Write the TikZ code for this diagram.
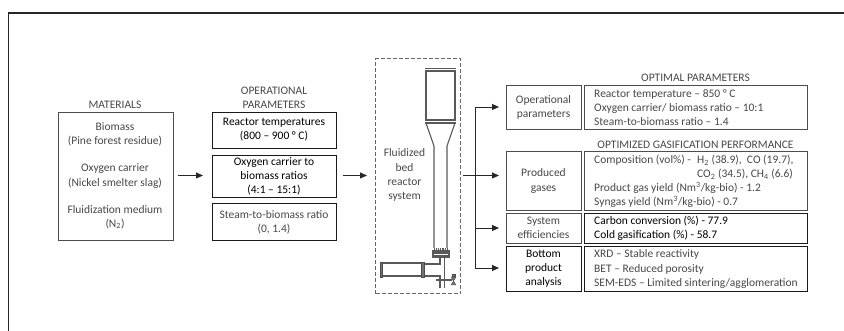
\documentclass[tikz,border=0pt]{standalone}
\usepackage{fontspec}
\setmainfont{Carlito}
\usetikzlibrary{arrows.meta}
\tikzset{
  x=1pt,y=-1pt,
  box/.style={draw=black!70,line width=1pt,inner sep=0pt,anchor=north west},
  boxd/.style={box,line width=1.3pt,draw=black!90},
  txt/.style={font=\fontsize{11.5pt}{14.1pt}\selectfont,text=black!72,align=center,inner sep=0pt},
  txtb/.style={txt,text=black},
  txtl/.style={txt,align=left,anchor=west},
  conn/.style={draw=black!85,line width=0.8pt,-{Triangle[length=7pt,width=6pt]}},
  plain/.style={draw=black!85,line width=0.8pt},
  vess/.style={draw=black!65,line width=1.1pt},
  fl/.style={draw=black!70,fill=black!55,line width=0.4pt},
}
\newcommand{\rbox}[6]{\node[#6,minimum width=#3pt,minimum height=#4pt] (#5) at (#1,#2) {};}
\begin{document}
\begin{tikzpicture}
\useasboundingbox (0,0) rectangle (844,331);
\draw[draw=black!85,line width=1.1pt] (844,13) -- (8.5,13) -- (8.5,331);
% materials
\node[txt] (tmat) at (115,105) {MATERIALS};
\rbox{58}{112}{115}{128}{mat}{box}
\node[txt] (tm1) at (115,134.5) {Biomass\\(Pine forest residue)};
\node[txt] (tm2) at (115,176) {Oxygen carrier\\(Nickel smelter slag)};
\node[txt] (tm3) at (115,217) {Fluidization medium\\(N\textsubscript{2})};
% parameters
\node[txt] (tpar) at (274,98) {OPERATIONAL\\PARAMETERS};
\rbox{212}{112}{124}{36}{p1}{boxd}
\rbox{212}{155}{124}{42}{p2}{boxd}
\rbox{212}{203}{124}{37}{p3}{boxd}
\node[txtb] (tp1) at (274,130) {Reactor temperatures\\(800 – 900 ° C)};
\node[txtb] (tp2) at (274,176) {Oxygen carrier to\\biomass ratios\\(4:1 – 15:1)};
\node[txt] (tp3) at (274,222) {Steam-to-biomass ratio\\(0, 1.4)};
\coordinate (a1s) at (178,175.5);
\coordinate (a1e) at (203,175.5);
\draw[conn] (a1s) -- (a1e);
\coordinate (a2s) at (343,175.5);
\coordinate (a2e) at (367,175.5);
\draw[conn] (a2s) -- (a2e);
% reactor system
\node[draw=black!60,dash pattern=on 4pt off 2pt,line width=1.2pt,anchor=north west,minimum width=85pt,minimum height=235pt,inner sep=0pt] (rs) at (375,58) {};
\node[txt] (trs) at (404.5,175) {Fluidized\\bed\\reactor\\system};
% vessel
\draw[vess] (426,70) -- (426,121) (455,70) -- (455,121);
\draw[vess,line width=1.3pt] (425,68.5) -- (456,68.5) (425,71) -- (456,71);
\draw[vess,line width=1.3pt] (425,120) -- (456,120) (425,123) -- (456,123);
\draw[vess] (426,123) -- (434,146) -- (434,248) (455,123) -- (447,146) -- (447,248);
\draw[vess,densely dotted] (434,249) -- (447,249);
\draw[vess,line width=1.3pt] (433,253) -- (449,253) (433,256) -- (449,256);
\draw[vess] (433,251) rectangle (449,257);
\draw[vess] (440,257) -- (440,264) -- (424,264) (424,276) -- (440,276) -- (440,288);
\draw[vess] (444.5,257) -- (444.5,288);
\draw[vess] (382,263) -- (421,263) (382,276) -- (421,276);
\draw[fl] (380,262) rectangle (382,277);
\draw[fl] (421,262) rectangle (424,277);
\draw[vess] (436,280) -- (452,280);
\draw[fl] (451,277) -- (456,285) -- (451,285) -- (456,277) -- cycle;
\draw[fl] (452,274) rectangle (455,276);
% branch
\coordinate (bs) at (463,175.5);
\coordinate (bt) at (475,107);
\coordinate (bb) at (475,268);
\coordinate (b1) at (499,107);
\coordinate (b2) at (499,175.5);
\coordinate (b3) at (499,228);
\coordinate (b4) at (499,268);
\coordinate (bm) at (475,175.5);
\coordinate (bc) at (475,228);
\draw[plain] (bs) -- (bm);
\draw[conn] (bt) -- (b1);
\draw[conn] (bm) -- (b2);
\draw[conn] (bc) -- (b3);
\draw[conn] (bb) -- (b4);
\draw[plain] (bt) -- (bb);
% right titles
\node[txt] (to) at (695.5,78) {OPTIMAL PARAMETERS};
\node[txt] (tg) at (695.5,145) {OPTIMIZED GASIFICATION PERFORMANCE};
% right boxes
\rbox{506}{85}{75}{44}{r1}{box}
\rbox{584}{85}{223}{44}{d1}{box}
\rbox{506}{151}{75}{59}{r2}{box}
\rbox{584}{151}{223}{59}{d2}{box}
\rbox{506}{213}{75}{30}{r3}{box}
\rbox{584}{213}{223}{30}{d3}{boxd}
\rbox{506}{246}{75}{45}{r4}{boxd}
\rbox{584}{246}{223}{45}{d4}{boxd}
\node[txt] (lr1) at (543.5,107) {Operational\\parameters};
\node[txt] (lr2) at (543.5,181) {Produced\\gases};
\node[txt] (lr3) at (543.5,228) {System\\efficiencies};
\node[txtb] (lr4) at (543.5,269) {Bottom\\product\\analysis};
\node[txtl] (ld1) at (594,107.5) {Reactor temperature – 850 ° C\\Oxygen carrier/ biomass ratio – 10:1\\Steam-to-biomass ratio – 1.4};
\node[txtl] (ld2a) at (594,160.5) {Composition (vol\%) -};
\node[txtl] (ld2b) at (697,160.5) {H\textsubscript{2} (38.9),\ \ CO (19.7),};
\node[txtl] (ld2c) at (697,174.5) {CO\textsubscript{2} (34.5), CH\textsubscript{4} (6.6)};
\node[txtl] (ld2d) at (594,195) {Product gas yield (Nm\textsuperscript{3}/kg-bio) - 1.2\\Syngas yield (Nm\textsuperscript{3}/kg-bio) - 0.7};
\node[txtl,text=black] (ld3) at (594,228) {Carbon conversion (\%) - 77.9\\Cold gasification (\%) - 58.7};
\node[txtl] (ld4) at (594,269) {XRD – Stable reactivity\\BET – Reduced porosity\\SEM-EDS – Limited sintering/agglomeration};
\end{tikzpicture}
\end{document}
